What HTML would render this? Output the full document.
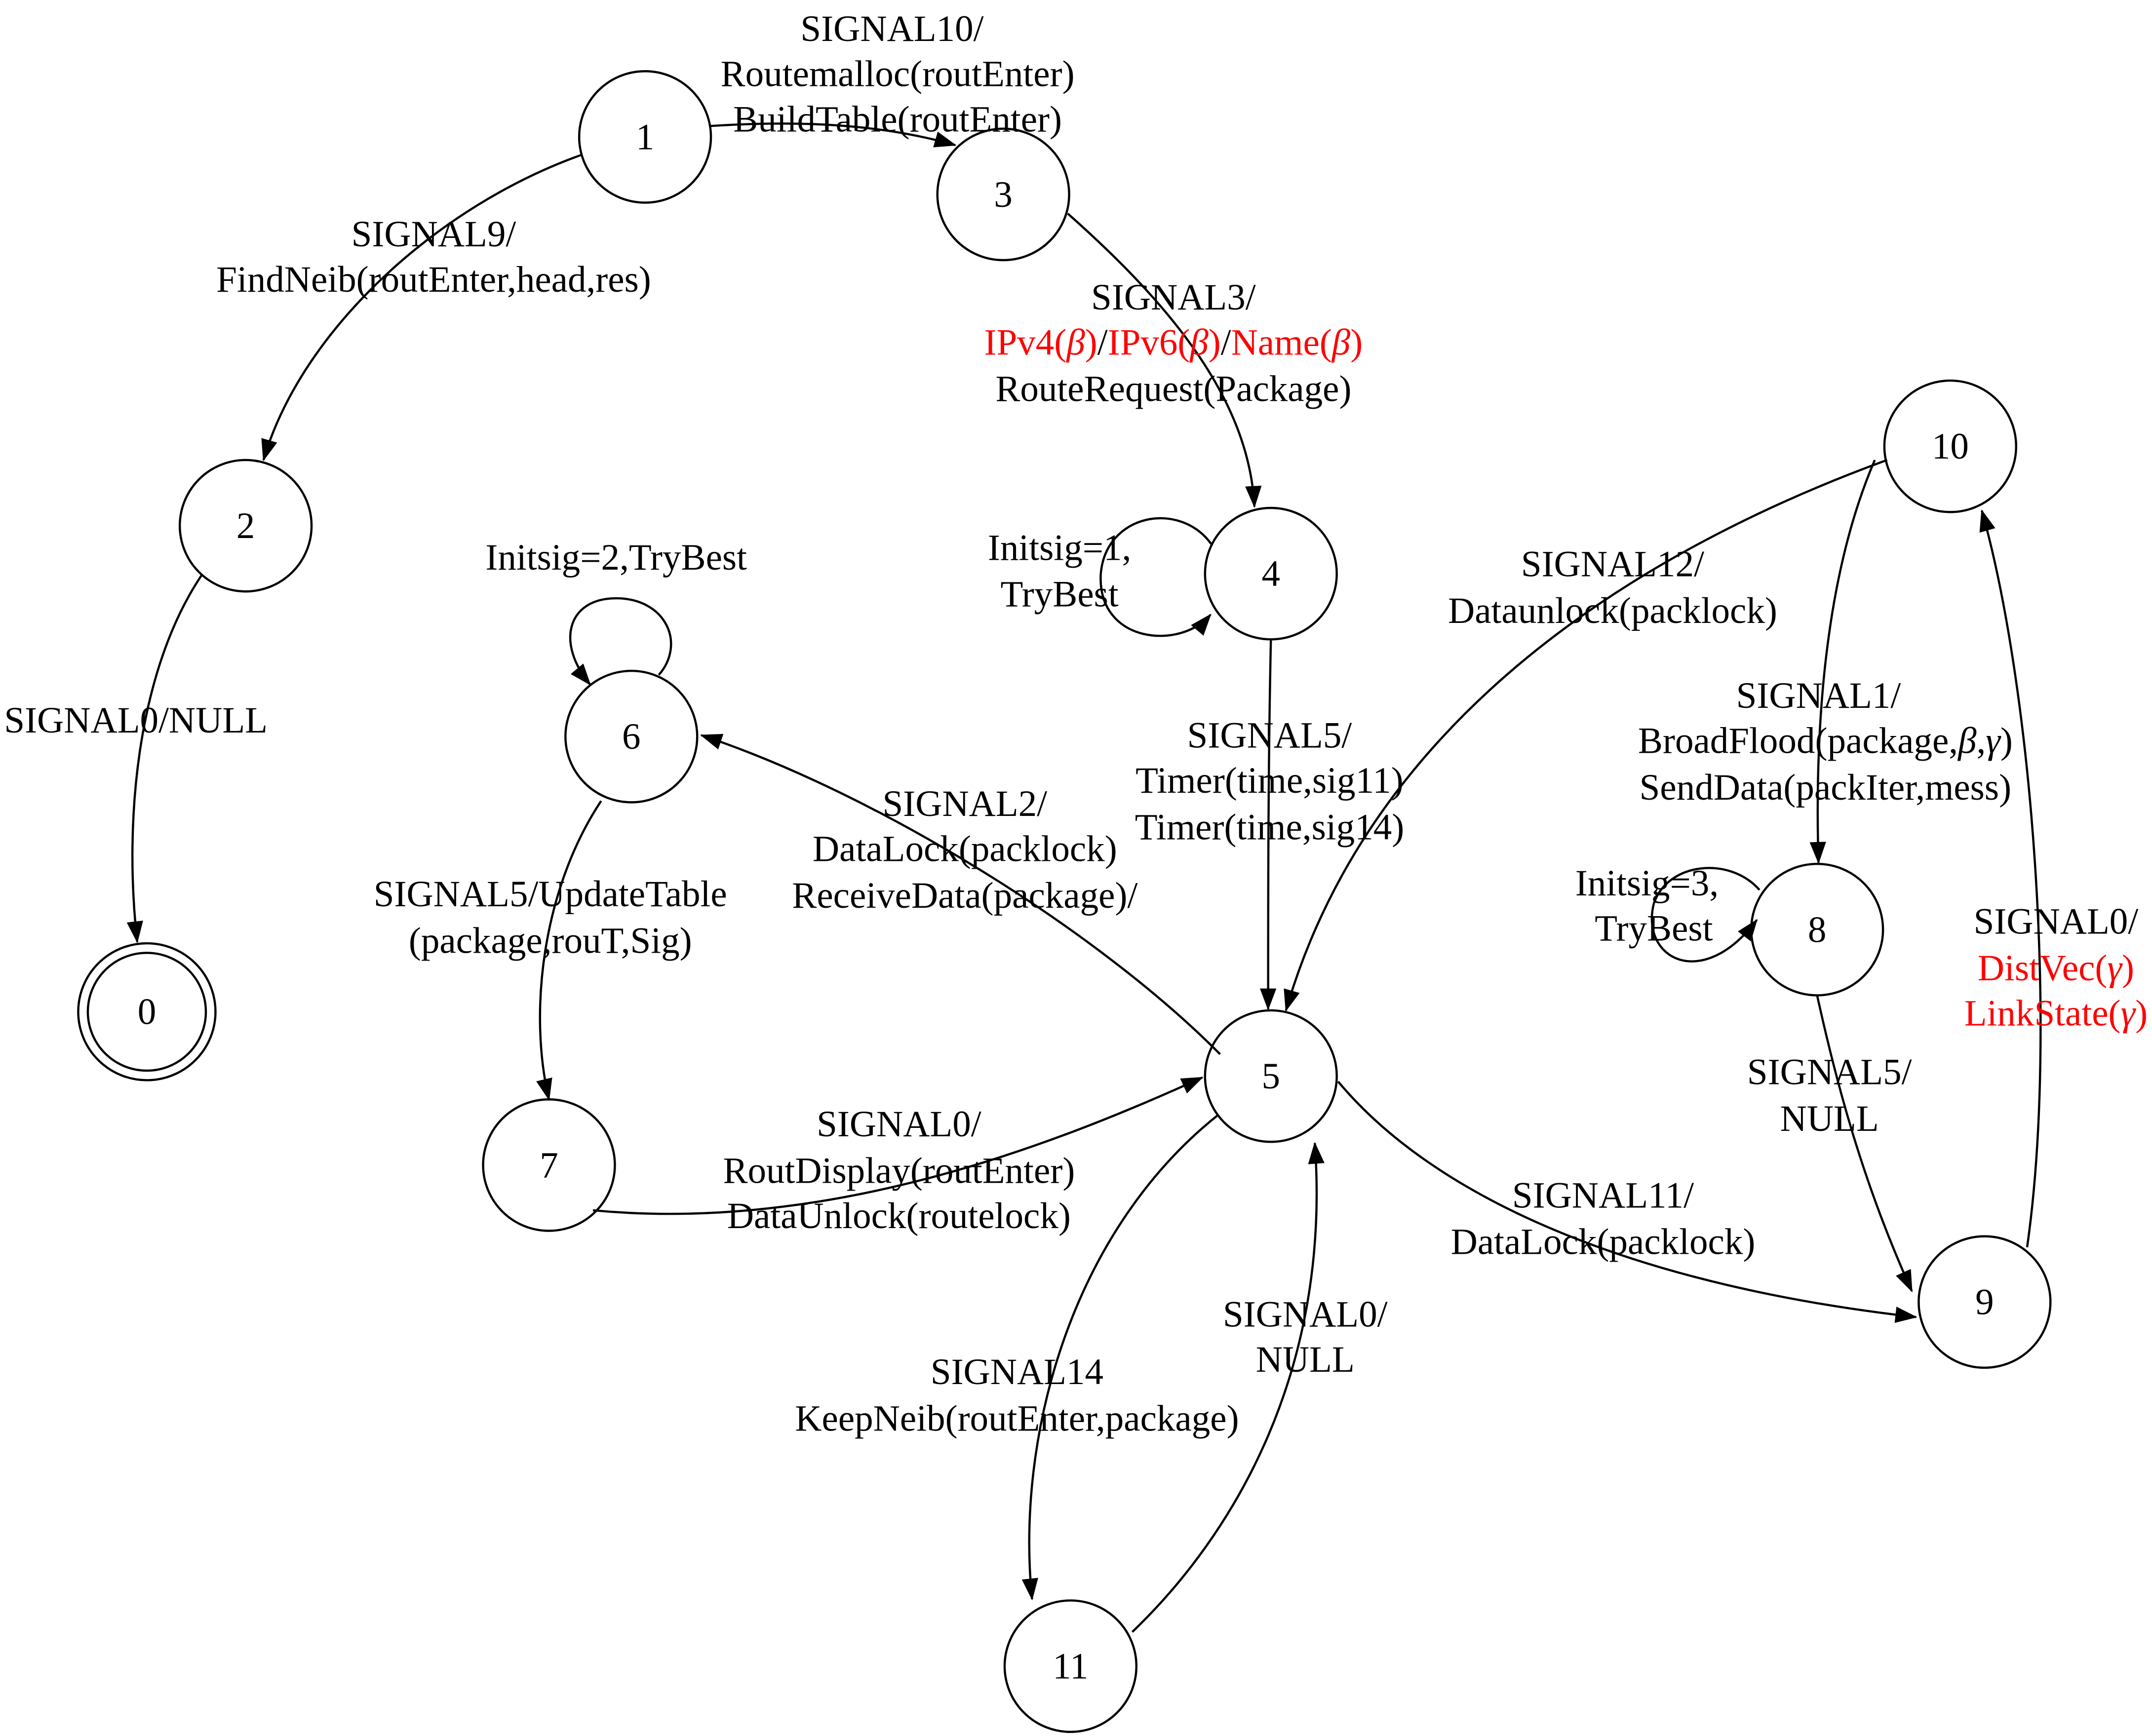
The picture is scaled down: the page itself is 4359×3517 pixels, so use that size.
<!DOCTYPE html>
<html><head><meta charset="utf-8"><style>
html,body{margin:0;padding:0;background:#fff;}
svg{display:block;}
text{font-family:"Liberation Serif",serif;font-size:27px;fill:#000;text-anchor:middle;}
.r{fill:#f00;}
</style></head><body>
<svg width="4359" height="3517" viewBox="0 0 1568 1268" preserveAspectRatio="none" xmlns="http://www.w3.org/2000/svg">
<defs>
<marker id="a" markerUnits="userSpaceOnUse" markerWidth="16" markerHeight="12" refX="15" refY="6" orient="auto">
<path d="M0,0 L16,6 L0,12 Z" fill="#000"/>
</marker>
</defs>
<g fill="none" stroke="#000" stroke-width="1.6">
<circle cx="470" cy="100" r="48"/>
<circle cx="731" cy="142" r="48"/>
<circle cx="179" cy="384" r="48"/>
<circle cx="107" cy="739" r="50"/>
<circle cx="107" cy="739" r="43"/>
<circle cx="460" cy="538" r="48"/>
<circle cx="926" cy="419" r="48"/>
<circle cx="1421" cy="326" r="48"/>
<circle cx="1324" cy="679" r="48"/>
<circle cx="926" cy="786" r="48"/>
<circle cx="400" cy="851" r="48"/>
<circle cx="1446" cy="951" r="48"/>
<circle cx="780" cy="1217" r="48"/>
</g>
<g fill="none" stroke="#000" stroke-width="1.6" marker-end="url(#a)">
<path d="M518,92 C580,88 640,90 696,106"/>
<path d="M424,113 C320,150 220,240 192,336"/>
<path d="M147,420 C100,490 90,600 100,688"/>
<path d="M778,156 C850,220 910,290 914,370"/>
<path d="M883,398 C860,365 805,375 802,420 C800,470 860,475 882,449"/>
<path d="M480,493 C500,470 485,437 449,437 C413,437 405,470 430,500"/>
<path d="M926,467 C924,560 924,650 924,737"/>
<path d="M1375,336 C1200,400 1000,520 937,738"/>
<path d="M1366,336 C1330,420 1322,530 1325,630"/>
<path d="M1282,650 C1260,625 1215,630 1205,660 C1195,700 1240,725 1280,672"/>
<path d="M1324,727 C1340,800 1360,870 1393,943"/>
<path d="M1477,911 C1500,750 1480,500 1444,373"/>
<path d="M975,790 C1050,880 1200,940 1396,962"/>
<path d="M889,770 C800,680 640,580 511,537"/>
<path d="M438,585 C395,650 385,740 400,803"/>
<path d="M432,884 C600,900 760,840 876,787"/>
<path d="M888,814 C780,900 740,1050 752,1168"/>
<path d="M825,1192 C900,1120 970,1000 958,835"/>
</g>
<g>
<text x="470" y="109">1</text>
<text x="731" y="151">3</text>
<text x="179" y="393">2</text>
<text x="107" y="748">0</text>
<text x="460" y="547">6</text>
<text x="926" y="428">4</text>
<text x="1421" y="335">10</text>
<text x="1324" y="688">8</text>
<text x="926" y="795">5</text>
<text x="400" y="860">7</text>
<text x="1446" y="960">9</text>
<text x="780" y="1226">11</text>

<text x="650" y="30">SIGNAL10/</text>
<text x="654" y="63">Routemalloc(routEnter)</text>
<text x="654" y="96">BuildTable(routEnter)</text>
<text x="316" y="180">SIGNAL9/</text>
<text x="316" y="213">FindNeib(routEnter,head,res)</text>
<text x="99" y="535">SIGNAL0/NULL</text>
<text x="855" y="226">SIGNAL3/</text>
<text x="855" y="259"><tspan class="r">IPv4(<tspan font-style="italic">β</tspan>)</tspan>/<tspan class="r">IPv6(<tspan font-style="italic">β</tspan>)</tspan>/<tspan class="r">Name(<tspan font-style="italic">β</tspan>)</tspan></text>
<text x="855" y="293">RouteRequest(Package)</text>
<text x="772" y="409">Initsig=1,</text>
<text x="772" y="443">TryBest</text>
<text x="449" y="416">Initsig=2,TryBest</text>
<text x="1175" y="421">SIGNAL12/</text>
<text x="1175" y="455">Dataunlock(packlock)</text>
<text x="925" y="546">SIGNAL5/</text>
<text x="925" y="579">Timer(time,sig11)</text>
<text x="925" y="613">Timer(time,sig14)</text>
<text x="1325" y="517">SIGNAL1/</text>
<text x="1330" y="550">BroadFlood(package,<tspan font-style="italic">β</tspan>,<tspan font-style="italic">γ</tspan>)</text>
<text x="1330" y="584">SendData(packIter,mess)</text>
<text x="703" y="596">SIGNAL2/</text>
<text x="703" y="629">DataLock(packlock)</text>
<text x="703" y="663">ReceiveData(package)/</text>
<text x="401" y="662">SIGNAL5/UpdateTable</text>
<text x="401" y="696">(package,rouT,Sig)</text>
<text x="1200" y="654">Initsig=3,</text>
<text x="1205" y="687">TryBest</text>
<text x="1498" y="682">SIGNAL0/</text>
<text x="1498" y="716" class="r">DistVec(<tspan font-style="italic">γ</tspan>)</text>
<text x="1498" y="749" class="r">LinkState(<tspan font-style="italic">γ</tspan>)</text>
<text x="1333" y="792">SIGNAL5/</text>
<text x="1333" y="826">NULL</text>
<text x="655" y="830">SIGNAL0/</text>
<text x="655" y="864">RoutDisplay(routEnter)</text>
<text x="655" y="897">DataUnlock(routelock)</text>
<text x="1168" y="882">SIGNAL11/</text>
<text x="1168" y="916">DataLock(packlock)</text>
<text x="951" y="969">SIGNAL0/</text>
<text x="951" y="1002">NULL</text>
<text x="741" y="1011">SIGNAL14</text>
<text x="741" y="1045">KeepNeib(routEnter,package)</text>
</g>
</svg>
</body></html>
